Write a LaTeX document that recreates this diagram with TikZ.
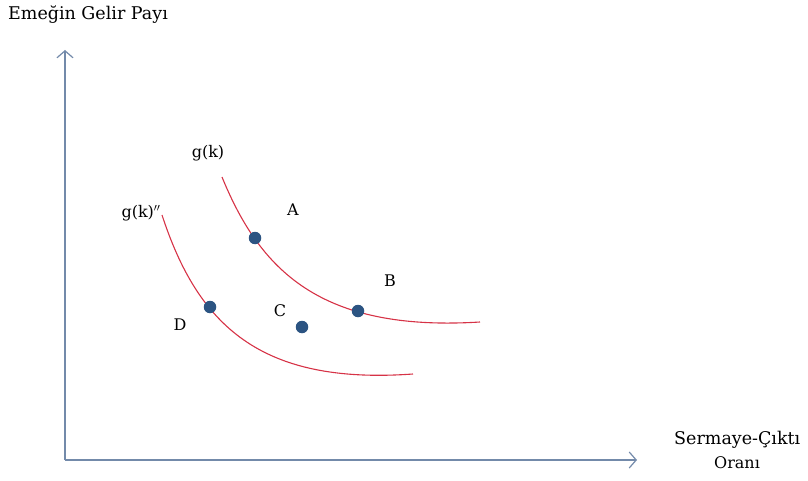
\documentclass[tikz,border=0pt]{standalone}
\usepackage{fontspec}
\setmainfont{DejaVu Serif}
\usetikzlibrary{arrows.meta}
\definecolor{axiscol}{RGB}{115,138,170}
\definecolor{curvecol}{RGB}{214,50,70}
\definecolor{dotcol}{RGB}{44,84,130}
\tikzset{
  axis/.style={draw=axiscol, line width=1.4pt, -{Straight Barb[length=7pt,width=16pt,line width=1.2pt]}},
  curve/.style={draw=curvecol, line width=1.1pt},
  dot/.style={circle, fill=dotcol, inner sep=0pt, minimum size=12.5pt},
  lbl/.style={font=\fontsize{16}{18}\selectfont, inner sep=0pt},
}
\begin{document}
\begin{tikzpicture}[x=1pt,y=-1pt]
\useasboundingbox (0,0) rectangle (808,481);
\coordinate (O) at (65,460);
\coordinate (Ytop) at (65,50);
\coordinate (Xend) at (637,460);
\draw[axis] (O) -- (Ytop);
\draw[axis] (O) -- (Xend);
\node[lbl, font=\fontsize{17.5}{19}\selectfont] (ylab) at (88,15) {Emeğin Gelir Payı};
\node[lbl, anchor=west, font=\fontsize{17.5}{19}\selectfont] (xlab1) at (674,440) {Sermaye-Çıktı};
\node[lbl] (xlab2) at (737,463) {Oranı};
% curves
\coordinate (u0) at (222,177);
\coordinate (u3) at (480,322);
\coordinate (l0) at (162,215);
\coordinate (l3) at (413,374);
\draw[curve] (u0) .. controls (260,270) and (320,332) .. (u3);
\draw[curve] (l0) .. controls (198,325) and (260,385) .. (l3);
% dots
\node[dot] (A) at (255,238) {};
\node[dot] (B) at (358,311) {};
\node[dot] (C) at (302,327) {};
\node[dot] (D) at (210,307) {};
% labels
\node[lbl] (gk1) at (208,153) {g(k)};
\node[lbl] (gk2) at (141,213) {g(k)$''$};
\node[lbl] (la) at (293,210) {A};
\node[lbl] (lb) at (390,281) {B};
\node[lbl] (lc) at (280,311) {C};
\node[lbl] (ld) at (180,325) {D};
\end{tikzpicture}
\end{document}
